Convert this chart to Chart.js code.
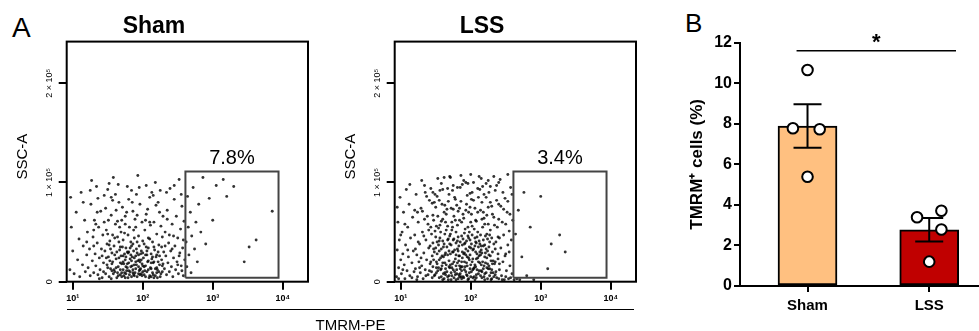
<!DOCTYPE html>
<html>
<head>
<meta charset="utf-8">
<script src="https://cdn.jsdelivr.net/npm/chart.js@4.4.1/dist/chart.umd.min.js"></script>
<style>
  body { margin: 0; background: #fff; width: 979px; height: 331px; position: relative; overflow: hidden;
         font-family: 'Liberation Sans', Arial, sans-serif; color: #000; }
  canvas { position: absolute; top: 0; }
  #shamChart { left: 0; }
  #lssChart { left: 328px; }
  #barChart { left: 660px; }
  .letter { position: absolute; line-height: 1; }
  #xline { position: absolute; left: 67px; top: 308.5px; width: 567px; border-top: 1.5px solid #000; }
  #xtitle { position: absolute; left: 67px; width: 567px; top: 316.5px; text-align: center; font-size: 15px; line-height: 15px; }
</style>
</head>
<body>
<div class="letter" style="left:12px; top:14px; font-size:28px;">A</div>
<div class="letter" style="left:685px; top:10px; font-size:26px;">B</div>
<canvas id="shamChart" width="330" height="331"></canvas>
<canvas id="lssChart" width="330" height="331"></canvas>
<canvas id="barChart" width="319" height="331"></canvas>
<div id="xline"></div>
<div id="xtitle">TMRM-PE</div>
<script>
// flow plots: x = log10(TMRM-PE), y = SSC-A in units of 1e5
var flowXTicks = [1, 2, 3, 4];
var flowYTicks = [0, 1, 2];
var flowYLabels = ['0', '1 \u00d7 10\u2075', '2 \u00d7 10\u2075'];
var supDigits = {1: '\u00b9', 2: '\u00b2', 3: '\u00b3', 4: '\u2074'};
var gateX = [2.61, 3.94];
var gateY = [0.04, 1.11];
var gateLabels = ['7.8%', '3.4%'];

var shamPoints = [
  [0.96,0.12],[0.98,0.55],[1.0,0.31],[1.02,0.08],[1.05,0.7],[1.07,0.22],[1.09,0.43],[1.1,0.05],[1.12,0.9],[1.14,0.17],
  [1.15,0.36],[1.17,0.62],[1.18,0.1],[1.2,0.27],[0.97,0.85],
  [1.21,0.5],[1.22,0.14],[1.24,0.33],[1.25,0.06],[1.26,0.78],[1.28,0.21],[1.29,0.45],[1.3,0.09],[1.31,0.62],[1.32,0.28],
  [1.33,0.16],[1.34,0.96],[1.35,0.39],[1.36,0.07],[1.37,0.55],[1.38,0.24],[1.39,0.12],[1.4,0.71],[1.41,0.33],[1.42,0.04],
  [1.43,0.47],[1.44,0.19],[1.45,0.87],[1.27,1.02],[1.3,0.36],[1.33,0.58],[1.38,0.03],[1.42,0.26],[1.36,0.84],[1.44,0.1],
  [1.46,0.31],[1.47,0.08],[1.48,0.52],[1.49,0.17],[1.5,0.93],[1.51,0.25],[1.52,0.05],[1.53,0.41],[1.54,0.13],[1.55,0.67],
  [1.56,0.29],[1.57,0.2],[1.58,1.05],[1.59,0.36],[1.6,0.1],[1.61,0.58],[1.62,0.23],[1.63,0.04],[1.64,0.45],[1.65,0.15],
  [1.66,0.8],[1.67,0.32],[1.68,0.07],[1.69,0.5],[1.7,0.18],[1.47,0.74],[1.49,0.38],[1.51,0.62],[1.53,0.21],[1.55,0.03],
  [1.57,0.47],[1.59,0.12],[1.61,0.88],[1.63,0.3],[1.65,0.06],[1.67,0.55],[1.69,0.26],[1.5,0.14],[1.54,0.33],[1.58,0.08],
  [1.62,0.72],[1.66,0.4],[1.68,0.19],[1.52,0.99],[1.56,0.11],[1.6,0.27],[1.64,0.61],[1.48,0.24],[1.7,0.09],[1.57,0.82],
  [1.71,0.35],[1.72,0.12],[1.73,0.06],[1.74,0.49],[1.75,0.22],[1.76,0.15],[1.77,0.7],[1.78,0.3],[1.79,0.04],[1.8,0.19],
  [1.81,0.55],[1.82,0.1],[1.83,0.27],[1.84,0.92],[1.85,0.16],[1.86,0.38],[1.87,0.07],[1.88,0.24],[1.89,0.63],[1.9,0.13],
  [1.91,0.33],[1.92,0.05],[1.93,0.21],[1.94,0.46],[1.95,0.11],[1.96,0.78],[1.97,0.28],[1.98,0.08],[1.99,0.18],[2.0,0.41],
  [1.72,0.26],[1.74,0.09],[1.76,0.34],[1.78,0.14],[1.8,0.83],[1.82,0.23],[1.84,0.05],[1.86,0.12],[1.88,0.44],[1.9,0.2],
  [1.92,0.67],[1.94,0.15],[1.96,0.07],[1.98,0.31],[2.0,0.1],[1.73,0.18],[1.75,0.58],[1.77,0.11],[1.79,0.29],[1.81,0.07],
  [1.83,0.4],[1.85,0.25],[1.87,0.52],[1.89,0.09],[1.91,0.17],[1.93,1.07],[1.95,0.36],[1.97,0.13],[1.99,0.6],[1.71,0.75],
  [1.75,0.04],[1.79,0.47],[1.83,0.15],[1.87,0.31],[1.91,0.88],[1.95,0.22],[1.99,0.06],[1.78,0.96],[1.86,0.71],[1.94,0.27],
  [2.01,0.24],[2.02,0.07],[2.03,0.52],[2.04,0.16],[2.05,0.35],[2.06,0.1],[2.07,0.73],[2.08,0.21],[2.09,0.04],[2.1,0.43],
  [2.11,0.14],[2.12,0.28],[2.13,0.9],[2.14,0.09],[2.15,0.19],[2.16,0.6],[2.17,0.32],[2.18,0.06],[2.19,0.25],[2.2,0.48],
  [2.21,0.12],[2.22,0.8],[2.23,0.37],[2.24,0.17],[2.25,0.05],[2.26,0.56],[2.27,0.22],[2.28,0.1],[2.29,0.66],[2.3,0.3],
  [2.02,0.38],[2.04,0.62],[2.06,0.27],[2.08,0.12],[2.1,0.85],[2.12,0.05],[2.14,0.4],[2.16,0.2],[2.18,1.0],[2.2,0.14],
  [2.22,0.3],[2.24,0.7],[2.26,0.08],[2.28,0.45],[2.03,0.11],[2.07,0.2],[2.11,0.57],[2.15,0.07],[2.19,0.77],[2.23,0.1],
  [2.27,0.35],[2.05,0.97],[2.13,0.23],[2.21,0.04],[2.29,0.18],
  [2.31,0.13],[2.32,0.5],[2.33,0.26],[2.34,0.07],[2.35,0.72],[2.36,0.19],[2.37,0.39],[2.38,0.1],[2.39,0.94],[2.4,0.31],
  [2.41,0.15],[2.42,0.58],[2.43,0.05],[2.44,0.24],[2.45,0.83],[2.46,0.36],[2.47,0.12],[2.48,0.66],[2.49,0.2],[2.5,0.44],
  [2.51,0.08],[2.52,1.03],[2.53,0.29],[2.54,0.53],[2.55,0.16],[2.56,0.76],[2.57,0.34],[2.58,0.06],[2.59,0.61],[2.6,0.22],
  [2.34,0.9],[2.42,0.33],[2.5,0.17],[2.38,0.47],[2.56,0.11],
  [1.62,0.14],[1.66,0.24],[1.7,0.05],[1.74,0.28],[1.78,0.18],[1.82,0.34],[1.86,0.09],[1.9,0.26],[1.94,0.08],[1.98,0.22],
  [2.02,0.15],[2.06,0.31],[2.1,0.06],[2.14,0.25],[2.18,0.13],[2.22,0.2],[1.76,0.08],[1.84,0.21],[1.92,0.29],[2.0,0.16],
  [2.08,0.34],[2.16,0.04],[1.8,0.3],[1.88,0.17],[1.96,0.12],[2.04,0.27],[2.12,0.19],[1.72,0.2],[2.2,0.27],[1.68,0.12],
  [1.52,0.37],[1.56,0.18],[1.6,0.44],[1.64,0.09],[1.68,0.35],[1.72,0.42],[1.76,0.25],[1.8,0.11],[1.84,0.36],[1.88,0.06],
  [1.92,0.4],[1.96,0.2],[2.0,0.29],[2.04,0.05],[2.08,0.44],[2.12,0.13],[2.16,0.35],[2.2,0.09],[2.24,0.26],[2.28,0.16],
  [1.45,0.6],[1.55,0.85],[1.65,0.98],[1.75,0.66],[1.85,0.8],[1.95,0.95],[2.05,0.68],[2.15,0.87],[2.25,0.92],[2.35,0.63],
  [2.45,0.97],[2.55,0.88],[1.35,0.7],[1.25,0.92],[1.15,0.8],[2.32,0.36],[2.44,0.46],[2.52,0.26],[2.58,0.42],[1.9,0.55],
  [2.1,0.6],[1.7,0.62],[1.5,0.48],[1.3,0.52],[1.2,0.4],
  [2.62,0.4],[2.63,0.15],[2.64,0.86],[2.65,0.55],[2.66,0.27],[2.68,0.7],[2.69,0.09],[2.7,0.46],[2.72,0.95],[2.74,0.33],
  [2.76,0.6],[2.78,0.2],[2.8,0.78],[2.83,0.5],[2.86,1.05],[2.9,0.38],[2.95,0.84],[3.0,0.62],[3.05,0.97],[3.15,1.03],
  [3.3,0.96],[3.45,0.2],[3.52,0.35],[3.62,0.42],[3.85,0.71],[3.2,0.86]
];

var lssPoints = [
  [0.94,0.05],[0.95,0.32],[0.96,0.6],[0.97,0.14],[0.98,0.42],[0.99,0.85],[1.0,0.22],[1.01,0.08],[1.02,0.5],[1.03,0.28],
  [1.04,0.7],[1.05,0.17],[1.06,0.03],[1.07,0.37],[1.08,0.93],[1.09,0.11],[1.1,0.55],[1.11,0.25],[1.12,0.78],[1.13,0.06],
  [1.14,0.44],[1.16,0.19],[1.17,0.65],[1.18,0.31],[1.19,0.1],
  [1.2,0.47],[1.21,0.13],[1.22,0.88],[1.23,0.27],[1.24,0.05],[1.25,0.6],[1.26,0.2],[1.27,0.38],[1.28,0.09],[1.29,0.74],
  [1.3,0.16],[1.31,0.5],[1.32,0.03],[1.33,0.29],[1.34,0.97],[1.35,0.12],[1.36,0.42],[1.37,0.22],[1.38,0.66],[1.39,0.07],
  [1.4,0.34],[1.41,0.82],[1.42,0.18],[1.43,0.55],[1.44,0.1],[1.45,0.26],[1.21,0.33],[1.24,0.7],[1.27,0.14],[1.3,1.02],
  [1.33,0.46],[1.36,0.06],[1.39,0.58],[1.42,0.36],[1.45,0.79],[1.23,0.02],[1.29,0.24],[1.35,0.9],[1.41,0.11],[1.44,0.48],
  [1.46,0.15],[1.47,0.62],[1.48,0.3],[1.49,0.07],[1.5,0.45],[1.51,0.2],[1.52,0.86],[1.53,0.11],[1.54,0.37],[1.55,0.04],
  [1.56,0.57],[1.57,0.24],[1.58,0.99],[1.59,0.16],[1.6,0.41],[1.61,0.08],[1.62,0.7],[1.63,0.27],[1.64,0.13],[1.65,0.52],
  [1.66,0.35],[1.67,0.05],[1.68,0.81],[1.69,0.21],[1.7,0.46],[1.46,0.39],[1.48,0.06],[1.5,0.75],[1.52,0.28],[1.54,0.14],
  [1.56,0.92],[1.58,0.33],[1.6,0.19],[1.62,0.03],[1.64,0.6],[1.66,0.1],[1.68,0.43],[1.7,1.06],[1.47,0.22],[1.49,0.51],
  [1.51,0.09],[1.53,0.66],[1.55,0.31],[1.57,0.12],[1.59,0.78],[1.61,0.25],[1.63,0.48],[1.65,0.17],[1.67,0.94],[1.69,0.06],
  [1.46,0.9],[1.5,0.34],[1.54,0.54],[1.58,0.05],[1.62,0.38],[1.66,0.73],[1.7,0.14],[1.48,0.8],[1.52,0.18],[1.56,0.44],
  [1.6,0.63],[1.64,0.29],[1.68,0.02],[1.53,1.04],[1.67,0.56],
  [1.71,0.28],[1.72,0.09],[1.73,0.6],[1.74,0.18],[1.75,0.42],[1.76,0.04],[1.77,0.85],[1.78,0.23],[1.79,0.5],[1.8,0.12],
  [1.81,0.33],[1.82,0.71],[1.83,0.07],[1.84,0.26],[1.85,0.95],[1.86,0.15],[1.87,0.46],[1.88,0.3],[1.89,0.05],[1.9,0.64],
  [1.91,0.2],[1.92,0.39],[1.93,0.1],[1.94,0.78],[1.95,0.25],[1.96,0.55],[1.97,0.03],[1.98,0.35],[1.99,0.89],[2.0,0.17],
  [1.71,0.48],[1.73,0.14],[1.75,0.73],[1.77,0.32],[1.79,0.02],[1.81,0.57],[1.83,0.21],[1.85,0.4],[1.87,0.11],[1.89,0.68],
  [1.91,0.29],[1.93,1.0],[1.95,0.06],[1.97,0.44],[1.99,0.13],[1.72,0.37],[1.74,0.92],[1.76,0.2],[1.78,0.62],[1.8,0.08],
  [1.82,0.45],[1.84,0.16],[1.86,0.81],[1.88,0.24],[1.9,0.04],[1.92,0.53],[1.94,0.19],[1.96,0.31],[1.98,0.09],[2.0,0.6],
  [1.71,1.05],[1.74,0.3],[1.77,0.1],[1.8,0.77],[1.83,0.36],[1.86,0.05],[1.89,0.43],[1.92,0.15],[1.95,0.87],[1.98,0.22],
  [1.73,0.52],[1.76,0.66],[1.79,0.27],[1.82,0.03],[1.85,0.13],[1.88,0.98],[1.91,0.49],[1.94,0.07],[1.97,0.7],[2.0,0.34],
  [2.01,0.1],[2.02,0.47],[2.03,0.23],[2.04,0.82],[2.05,0.05],[2.06,0.36],[2.07,0.15],[2.08,0.61],[2.09,0.28],[2.1,0.94],
  [2.11,0.08],[2.12,0.41],[2.13,0.19],[2.14,0.72],[2.15,0.32],[2.16,0.04],[2.17,0.55],[2.18,0.13],[2.19,0.88],[2.2,0.25],
  [2.21,0.46],[2.22,0.09],[2.23,0.67],[2.24,0.18],[2.25,1.02],[2.26,0.35],[2.27,0.06],[2.28,0.52],[2.29,0.21],[2.3,0.76],
  [2.01,0.68],[2.03,0.04],[2.05,0.53],[2.07,0.3],[2.09,0.12],[2.11,0.85],[2.13,0.38],[2.15,0.17],[2.17,0.96],[2.19,0.05],
  [2.21,0.29],[2.23,0.14],[2.25,0.58],[2.27,0.4],[2.29,0.02],[2.02,0.2],[2.04,0.33],[2.06,0.74],[2.08,0.07],[2.1,0.5],
  [2.12,0.11],[2.14,0.27],[2.16,0.63],[2.18,0.36],[2.2,0.08],[2.22,0.99],[2.24,0.43],[2.26,0.16],[2.28,0.8],[2.3,0.12],
  [2.02,0.9],[2.06,0.02],[2.1,0.24],[2.14,0.47],[2.18,0.7],[2.22,0.33],[2.26,0.9],[2.3,0.44],[2.04,0.13],[2.12,1.06],
  [2.2,0.58],[2.28,0.26],[2.08,0.39],[2.16,0.1],[2.24,0.03],
  [2.31,0.3],[2.32,0.09],[2.33,0.65],[2.34,0.18],[2.35,0.92],[2.36,0.4],[2.37,0.04],[2.38,0.55],[2.39,0.23],[2.4,0.78],
  [2.41,0.12],[2.42,1.03],[2.43,0.34],[2.44,0.06],[2.45,0.6],[2.46,0.2],[2.47,0.47],[2.48,0.02],[2.49,0.84],[2.5,0.28],
  [2.51,0.11],[2.52,0.7],[2.53,0.37],[2.54,0.03],[2.55,0.51],[2.56,0.16],[2.57,0.95],[2.58,0.42],[2.59,0.08],[2.6,0.62],
  [2.33,0.05],[2.37,0.82],[2.41,0.44],[2.45,0.02],[2.49,0.26],[2.53,1.08],[2.57,0.04],[2.35,0.2],[2.47,0.73],[2.55,0.3],
  [1.52,0.4],[1.55,0.22],[1.58,0.13],[1.61,0.35],[1.64,0.07],[1.67,0.27],[1.7,0.38],[1.73,0.06],[1.76,0.43],[1.79,0.16],
  [1.82,0.31],[1.85,0.08],[1.88,0.37],[1.91,0.12],[1.94,0.41],[1.97,0.24],[2.0,0.05],[2.03,0.32],[2.06,0.17],[2.09,0.45],
  [2.12,0.26],[2.15,0.11],[2.18,0.42],[2.21,0.19],[2.24,0.31],[2.27,0.13],[2.3,0.03],[2.33,0.38],[2.36,0.1],[2.39,0.28],
  [1.57,0.5],[1.63,0.19],[1.69,0.31],[1.75,0.12],[1.81,0.19],[1.87,0.2],[1.93,0.33],[1.99,0.27],[2.05,0.14],[2.11,0.35],
  [2.17,0.2],[2.23,0.48],[2.29,0.09],[2.35,0.33],[2.41,0.18],[1.74,0.55],[1.84,0.62],[1.9,0.28],[1.96,0.46],[2.02,0.56],
  [2.08,0.23],[2.14,0.06],[2.2,0.37],[2.26,0.27],[1.78,0.07],[1.88,0.15],[1.98,0.5],[2.06,0.44],[2.16,0.29],[2.32,0.21],
  [1.31,0.71],[1.34,0.63],[1.37,0.86],[1.4,0.52],[1.43,0.94],[1.46,0.67],[1.49,0.88],[1.51,0.56],[1.55,0.82],[1.58,0.61],
  [1.6,0.93],[1.63,0.77],[1.65,0.68],[1.69,0.88],[1.72,0.74],[1.75,0.97],[1.78,0.83],[1.81,0.95],[1.84,0.74],[1.87,0.6],
  [1.9,1.02],[1.93,0.72],[1.96,0.99],[1.99,0.75],[2.01,0.83],[2.04,1.0],[2.07,0.62],[2.1,0.7],[2.13,0.93],[2.16,0.8],
  [2.19,0.64],[2.22,0.85],[2.25,0.75],[2.28,0.96],[2.31,0.68],[2.34,0.57],[2.37,0.97],[2.4,0.63],[2.43,0.76],[2.46,0.9],
  [2.5,0.58],[2.53,0.81],[2.56,0.68],[2.59,0.88],[1.86,1.07],[2.0,1.08],[2.15,1.04],[2.33,1.06],[1.62,1.05],[2.4,1.0],
  [1.43,0.2],[1.47,0.33],[1.51,0.14],[1.55,0.41],[1.59,0.26],[1.63,0.09],[1.67,0.42],[1.71,0.17],[1.75,0.3],[1.79,0.39],
  [1.83,0.26],[1.87,0.03],[1.91,0.38],[1.95,0.16],[1.99,0.42],[2.03,0.12],[2.07,0.4],[2.11,0.2],[2.15,0.36],[2.19,0.16],
  [2.23,0.24],[2.27,0.47],[2.31,0.18],[2.35,0.07],[2.39,0.45],[1.6,0.02],[1.72,0.02],[1.84,0.05],[1.96,0.02],[2.08,0.04],
  [2.2,0.02],[2.4,0.03],[2.5,0.05],[1.45,0.04],[1.93,0.27],[2.01,0.38],[2.13,0.3],[1.81,0.41],[1.69,0.15],[2.25,0.13],
  [0.95,0.75],[0.97,0.03],[1.0,0.47],[1.03,0.12],[1.06,0.58],[1.1,0.32],[1.13,0.98],[1.16,0.04],[1.2,0.72],[1.25,0.4],
  [2.62,0.02],[2.64,0.48],[2.66,0.03],[2.68,0.72],[2.7,0.02],[2.73,0.25],[2.76,0.9],[2.8,0.06],[2.85,0.55],[2.9,0.02],
  [3.0,0.86],[3.15,0.38],[3.27,0.47],[3.35,0.3],[3.1,0.13]
];

// bar chart (panel B)
var groups = ['Sham', 'LSS'];
var barMeans = [7.89, 2.77];
var barSems = [1.07, 0.58];
var barColors = ['#FFC080', '#C00000'];
var shamValues = [10.65, 7.78, 7.73, 5.39];
var lssValues = [3.39, 3.71, 2.79, 1.2];
var shamJitter = [0, -0.12, 0.1, 0];
var lssJitter = [-0.1, 0.1, 0.1, 0];
var barYTicks = [0, 2, 4, 6, 8, 10, 12];
var sigSpan = [-0.09, 1.22];
var sigLevel = 11.6;

var FONT = "'Liberation Sans', Arial, sans-serif";
Chart.defaults.font.family = FONT;
Chart.defaults.color = '#000';

var flowDecor = {
    id: 'flowDecor',
    afterDraw: function (chart, args, opts) {
        var ctx = chart.ctx, a = chart.chartArea, x = chart.scales.x, y = chart.scales.y;
        ctx.save();
        ctx.strokeStyle = '#000';
        ctx.lineWidth = 2;
        ctx.strokeRect(a.left, a.top, a.right - a.left, a.bottom - a.top);
        ctx.fillStyle = '#000';
        // gate percentage
        ctx.font = '20px ' + FONT;
        ctx.textAlign = 'center';
        ctx.textBaseline = 'alphabetic';
        ctx.fillText(opts.label, (x.getPixelForValue(gateX[0]) + x.getPixelForValue(gateX[1])) / 2, y.getPixelForValue(gateY[1]) - 8);
        // rotated y tick labels
        ctx.font = '9px ' + FONT;
        ctx.textBaseline = 'middle';
        for (var i = 0; i < flowYTicks.length; i++) {
            ctx.save();
            ctx.translate(a.left - 17, y.getPixelForValue(flowYTicks[i]));
            ctx.rotate(-Math.PI / 2);
            ctx.fillText(flowYLabels[i], 0, 0);
            ctx.restore();
        }
        // axis title
        ctx.font = '15px ' + FONT;
        ctx.translate(a.left - 44, (a.top + a.bottom) / 2 - 5);
        ctx.rotate(-Math.PI / 2);
        ctx.fillText('SSC-A', 0, 0);
        ctx.restore();
    }
};

function noSidePadding(s) {
    s.paddingLeft = 0;
    s.paddingRight = 0;
}

function makeFlow(id, title, points, label) {
    var gateLine = [[gateX[0], gateY[0]], [gateX[0], gateY[1]], [gateX[1], gateY[1]], [gateX[1], gateY[0]], [gateX[0], gateY[0]]];
    new Chart(document.getElementById(id), {
        type: 'scatter',
        data: {
            datasets: [{
                data: gateLine.map(function (p) { return {x: p[0], y: p[1]}; }),
                showLine: true, pointRadius: 0, borderColor: '#444', borderWidth: 2, fill: false
            }, {
                data: points.map(function (p) { return {x: p[0], y: p[1]}; }),
                pointRadius: 1.45, pointBorderWidth: 0, backgroundColor: 'rgba(0,0,0,0.8)'
            }]
        },
        options: {
            responsive: false, animation: false, events: [],
            layout: {autoPadding: false, padding: {left: 0, right: 22, top: 0, bottom: 0}},
            plugins: {
                legend: {display: false}, tooltip: {enabled: false},
                title: {display: true, text: title, font: {size: 23, weight: 'bold'}, color: '#000', padding: {top: 13, bottom: 1}},
                flowDecor: {label: label}
            },
            scales: {
                x: {
                    type: 'linear', min: 0.914, max: 4.361,
                    afterBuildTicks: function (s) { s.ticks = flowXTicks.map(function (v) { return {value: v}; }); },
                    afterFit: function (s) { s.height = 49.3; noSidePadding(s); },
                    grid: {drawOnChartArea: false, tickLength: 8, lineWidth: 2, color: '#000'},
                    border: {display: false},
                    ticks: {padding: 3, maxRotation: 0, font: {size: 9, weight: 'bold'}, color: '#000',
                        callback: function (v) { return '10' + supDigits[v]; }}
                },
                y: {
                    type: 'linear', min: 0, max: 2.42,
                    afterBuildTicks: function (s) { s.ticks = flowYTicks.map(function (v) { return {value: v}; }); },
                    afterFit: function (s) { s.width = 66.7; },
                    grid: {drawOnChartArea: false, tickLength: 8, lineWidth: 2, color: '#000'},
                    border: {display: false},
                    ticks: {display: false}
                }
            }
        },
        plugins: [flowDecor]
    });
}

makeFlow('shamChart', 'Sham', shamPoints, gateLabels[0]);
makeFlow('lssChart', 'LSS', lssPoints, gateLabels[1]);

var barDecor = {
    id: 'barDecor',
    afterDatasetDraw: function (chart, args) {
        if (args.index !== 0) return;
        var ctx = chart.ctx, x = chart.scales.x, y = chart.scales.y;
        ctx.save();
        ctx.strokeStyle = '#000';
        ctx.lineWidth = 2;
        for (var i = 0; i < barMeans.length; i++) {
            var xc = x.getPixelForValue(i);
            var hi = y.getPixelForValue(barMeans[i] + barSems[i]);
            var lo = y.getPixelForValue(barMeans[i] - barSems[i]);
            ctx.beginPath();
            ctx.moveTo(xc, hi); ctx.lineTo(xc, lo);
            ctx.moveTo(xc - 14, hi); ctx.lineTo(xc + 14, hi);
            ctx.moveTo(xc - 14, lo); ctx.lineTo(xc + 14, lo);
            ctx.stroke();
        }
        ctx.restore();
    },
    afterDraw: function (chart) {
        var ctx = chart.ctx, a = chart.chartArea, x = chart.scales.x, y = chart.scales.y;
        ctx.save();
        ctx.strokeStyle = '#000';
        ctx.fillStyle = '#000';
        ctx.lineWidth = 1.5;
        var x0 = x.getPixelForValue(sigSpan[0]), x1 = x.getPixelForValue(sigSpan[1]), ys = y.getPixelForValue(sigLevel);
        ctx.beginPath();
        ctx.moveTo(x0, ys); ctx.lineTo(x1, ys);
        ctx.stroke();
        ctx.font = 'bold 22px ' + FONT;
        ctx.textAlign = 'center';
        ctx.textBaseline = 'alphabetic';
        ctx.fillText('*', (x0 + x1) / 2, ys - 2);
        // y axis title
        ctx.font = 'bold 17px ' + FONT;
        ctx.textBaseline = 'middle';
        ctx.translate(a.left - 43, (a.top + a.bottom) / 2);
        ctx.rotate(-Math.PI / 2);
        ctx.fillText('TMRM\u207a cells (%)', 0, 0);
        ctx.restore();
    }
};

function dotData(values, jitter, group) {
    return values.map(function (v, i) { return {x: group + jitter[i], y: v}; });
}

new Chart(document.getElementById('barChart'), {
    type: 'bar',
    data: {
        datasets: [{
            type: 'bar', order: 2,
            data: groups.map(function (g, i) { return {x: i, y: barMeans[i]}; }),
            backgroundColor: barColors, borderColor: '#000', borderWidth: 2, borderSkipped: false,
            barThickness: 59
        }, {
            type: 'scatter', order: 1,
            data: dotData(shamValues, shamJitter, 0).concat(dotData(lssValues, lssJitter, 1)),
            pointRadius: 5.3, pointBorderWidth: 2, borderColor: '#000', backgroundColor: '#fff', clip: false
        }]
    },
    options: {
        responsive: false, animation: false, events: [],
        layout: {autoPadding: false, padding: {left: 0, right: 0, top: 42.7, bottom: 0}},
        plugins: {legend: {display: false}, tooltip: {enabled: false}},
        scales: {
            x: {
                type: 'linear', min: -0.5547, max: 1.409, offset: false,
                afterBuildTicks: function (s) { s.ticks = groups.map(function (g, i) { return {value: i}; }); },
                afterFit: function (s) { s.height = 45; noSidePadding(s); },
                grid: {drawOnChartArea: false, offset: false, tickLength: 6, lineWidth: 2, color: '#000'},
                border: {display: true, width: 2, color: '#000'},
                ticks: {padding: 5, maxRotation: 0, font: {size: 15, weight: 'bold'}, color: '#000',
                    callback: function (v) { return groups[v]; }}
            },
            y: {
                type: 'linear', min: 0, max: 12,
                afterBuildTicks: function (s) { s.ticks = barYTicks.map(function (v) { return {value: v}; }); },
                afterFit: function (s) { s.width = 80; },
                grid: {drawOnChartArea: false, tickLength: 6, lineWidth: 2, color: '#000'},
                border: {display: true, width: 2, color: '#000'},
                ticks: {padding: 2, font: {size: 16, weight: 'bold'}, color: '#000'}
            }
        }
    },
    plugins: [barDecor]
});
</script>
</body>
</html>
